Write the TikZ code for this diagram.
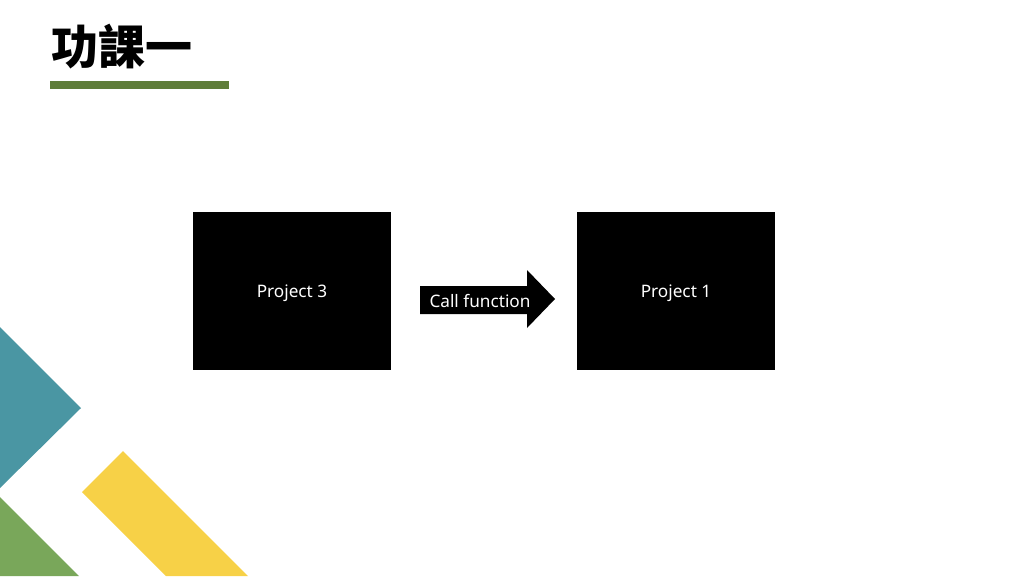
\documentclass[tikz,border=0pt]{standalone}
\usepackage{fontspec}
\setmainfont{Noto Sans}
\newfontfamily\cjk{Noto Sans CJK TC}
\definecolor{tealc}{HTML}{4A96A3}
\definecolor{greenc}{HTML}{79A75A}
\definecolor{yellowc}{HTML}{F7D147}
\definecolor{barc}{HTML}{5F7D3A}
\begin{document}
\begin{tikzpicture}[x=1pt,y=-1pt,
  projbox/.style={fill=black,draw=none,minimum width=198pt,minimum height=158pt,inner sep=0pt},
  lbl/.style={text=white,font=\fontsize{17.2}{19}\selectfont}]
\useasboundingbox (0,0) rectangle (1024,576);
\fill[white] (0,0) rectangle (1024,576);
% decorations
\fill[tealc] (0,327) -- (81,408) -- (0,488) -- cycle;
\fill[greenc] (0,497) -- (79,576) -- (0,576) -- cycle;
\fill[yellowc] (82,492) -- (123,451) -- (248,576) -- (166,576) -- cycle;
% title
\node[anchor=west,inner sep=0pt,font=\cjk\bfseries\fontsize{47}{50}\selectfont] (title) at (51,47) {功課一};
\fill[barc] (50,81) rectangle (229,89);
% boxes
\node[projbox] (p3) at (292,291) {};
\node[lbl] (p3t) at (292,293) {Project 3};
\node[projbox] (p1) at (676,291) {};
\node[lbl] (p1t) at (676,293) {Project 1};
% arrow
\fill[black] (420,286) -- (527,286) -- (527,270) -- (555,299) -- (527,328) -- (527,314) -- (420,314) -- cycle;
\node[lbl] (call) at (480,301) {Call function};
\end{tikzpicture}
\end{document}
